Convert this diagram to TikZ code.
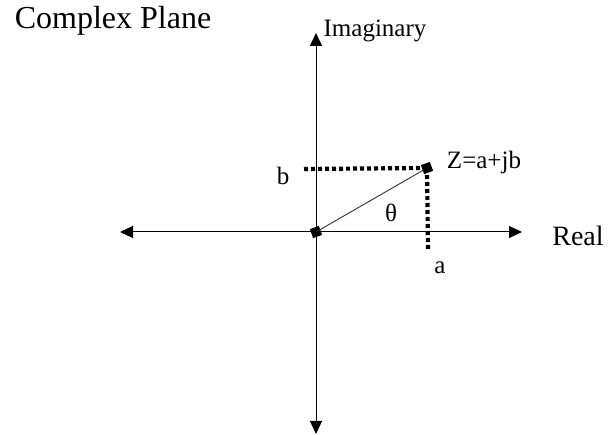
\documentclass[tikz,border=0pt]{standalone}
\usepackage{fontspec}
\setmainfont{Liberation Serif}
\usetikzlibrary{arrows.meta}
\begin{document}
\begin{tikzpicture}[x=1pt,y=-1pt,
  axis/.style={line width=1pt,{Triangle[length=13pt,width=12pt]}-{Triangle[length=13pt,width=12pt]}},
  dotline/.style={line width=4.2pt,dash pattern=on 4pt off 3pt},
  pt/.style={fill=black,minimum size=9.5pt,inner sep=0pt,rotate=20},
  lbl/.style={inner sep=0pt,font=\fontsize{25}{28}\selectfont}]
\useasboundingbox (0,0) rectangle (608,435);
\coordinate (top) at (316,33);
\coordinate (bot) at (316,434);
\coordinate (left) at (120,232);
\coordinate (right) at (522,232);
\coordinate (bend) at (302,169);
\coordinate (aend) at (428,249);
\draw[axis] (bot) -- (top);
\draw[axis] (left) -- (right);
\node[pt] (O) at (316,232) {};
\node[pt] (Z) at (427,168) {};
\draw[line width=0.9pt,black!80] (O.center) -- (Z.center);
\draw[dotline] (Z.center) -- (bend);
\draw[dotline] (Z.center) -- (aend);
\node[lbl,font=\fontsize{32}{36}\selectfont] (title) at (113,21) {Complex Plane};
\node[lbl,font=\fontsize{25}{28}\selectfont] (im) at (375,31) {Imaginary};
\node[lbl,font=\fontsize{28}{32}\selectfont] (re) at (578,236) {Real};
\node[lbl,font=\fontsize{25}{28}\selectfont] (zl) at (484,162) {Z=a+jb};
\node[lbl] (bl) at (283,176) {b};
\node[lbl] (al) at (440,268) {a};
\node[lbl] (th) at (391,213) {θ};
\end{tikzpicture}
\end{document}
